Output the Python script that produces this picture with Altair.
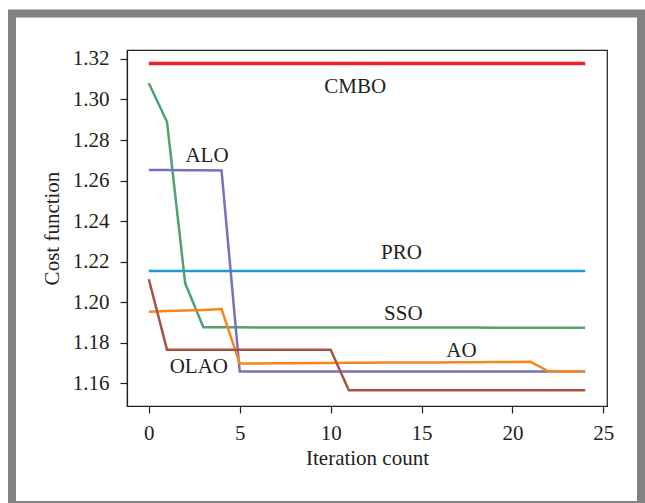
import altair as alt
import pandas as pd

# ---- data ----
iters = list(range(25))
cmbo = [1.3178] * 25
pro = [1.2154] * 25
sso = [1.3080, 1.2890, 1.2093, 1.1876] + [1.1876 - 0.00001 * i for i in range(21)]
alo = [1.2652, 1.2652, 1.2651, 1.2651, 1.2650] + [1.1658] * 20
ao = [1.1953, 1.1956, 1.1959, 1.1962, 1.1966, 1.1698, 1.1698, 1.1699, 1.1699, 1.1700,
      1.1700, 1.1701, 1.1701, 1.1702, 1.1702, 1.1703, 1.1703, 1.1704, 1.1704, 1.1705,
      1.1705, 1.1706, 1.1658, 1.1658, 1.1658]
olao = [1.2113] + [1.1766] * 10 + [1.1566] * 14

series_names = ["CMBO", "PRO", "SSO", "ALO", "AO", "OLAO"]
series_vals = [cmbo, pro, sso, alo, ao, olao]
series_colors = ["#e8202a", "#1b9ad7", "#4fa272", "#7772bb", "#f6871f", "#a65442"]
series_widths = [3.5, 2.5, 2.5, 2.5, 2.5, 2.5]

label_names = ["CMBO", "ALO", "PRO", "SSO", "AO", "OLAO"]
label_x = [11.35, 3.2, 13.9, 14.0, 17.2, 2.75]
label_y = [1.3062, 1.2721, 1.2243, 1.1942, 1.1759, 1.1680]

x_ticks = [0, 5, 10, 15, 20, 25]
y_ticks = [1.16, 1.18, 1.20, 1.22, 1.24, 1.26, 1.28, 1.30, 1.32]

rows = []
for name, vals in zip(series_names, series_vals):
    for i, v in zip(iters, vals):
        rows.append({"series": name, "iter": i, "cost": v})
df = pd.DataFrame(rows)
lab = pd.DataFrame({"name": label_names, "x": label_x, "y": label_y})

FONT = "Liberation Serif"
FS = 21
xscale = alt.Scale(domain=[-1.2, 25.2], nice=False, zero=False)
yscale = alt.Scale(domain=[1.1488, 1.3244], nice=False, zero=False)

xaxis = alt.Axis(values=x_ticks, title="Iteration count", grid=False, format="d")
yaxis = alt.Axis(values=y_ticks, title="Cost function", grid=False, format=".2f")

layers = []
for name, col, w in zip(series_names, series_colors, series_widths):
    layers.append(
        alt.Chart(df[df.series == name]).mark_line(color=col, strokeWidth=w).encode(
            x=alt.X("iter:Q", scale=xscale, axis=xaxis),
            y=alt.Y("cost:Q", scale=yscale, axis=yaxis),
        )
    )

text = alt.Chart(lab).mark_text(font=FONT, fontSize=FS, color="#231f20",
                                align="center", baseline="middle").encode(
    x=alt.X("x:Q", scale=xscale),
    y=alt.Y("y:Q", scale=yscale),
    text="name:N",
)

frame = alt.Chart(alt.Data(values=[{}])).mark_rect(
    fill=None, stroke="#828282", strokeWidth=8, clip=False
).encode(
    x=alt.value(-115), x2=alt.value(514), y=alt.value(-36.5), y2=alt.value(455)
)

chart = alt.layer(frame, *layers, text).properties(
    width=480, height=356,
    autosize=alt.AutoSizeParams(type="none"),
    padding={"left": 127, "top": 50, "right": 38, "bottom": 97},
    background="white",
).configure_view(
    stroke="#231f20", strokeWidth=1.2
).configure_axis(
    labelFont=FONT, titleFont=FONT, labelFontSize=FS, titleFontSize=FS,
    labelColor="#231f20", titleColor="#231f20", titleFontWeight="normal",
    domainColor="#231f20", tickColor="#231f20", tickSize=7, domainWidth=1.2, tickWidth=1.2,
).configure_axisX(
    labelPadding=9, titlePadding=4,
).configure_axisY(
    labelPadding=11, titlePadding=10,
)

chart.save("out.html", embed_options={"renderer": "svg", "actions": False})
